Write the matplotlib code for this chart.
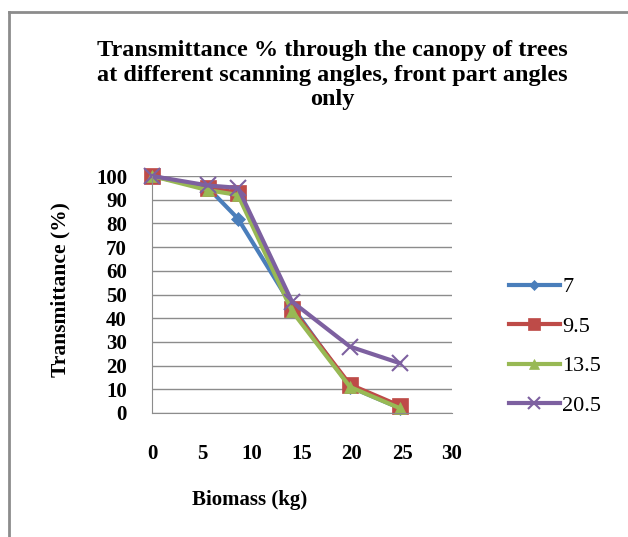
import matplotlib.pyplot as plt
from matplotlib.lines import Line2D

# Biomass (kg) and transmittance (%) for each scanning angle
biomass = [0, 5.6, 8.6, 14, 19.8, 24.8]
angles = ["7", "9.5", "13.5", "20.5"]
t_7 = [100, 95, 82, 45, 11, 2]
t_9_5 = [100, 95, 93, 44, 12, 3]
t_13_5 = [100, 94, 92, 43, 11, 2]
t_20_5 = [100, 96, 95, 47, 28, 21]
series = [t_7, t_9_5, t_13_5, t_20_5]

colors = ["#4A7EBB", "#BE4B48", "#98B954", "#7D60A0"]
markers = ["D", "s", "^", "x"]
msizes = [7, 11, 9, 11]

plt.rcParams["font.family"] = ["Liberation Serif", "DejaVu Serif"]

W, H = 628, 537
fig = plt.figure(figsize=(W / 100, H / 100), dpi=100)

# outer frame (top and left edges only visible)
fig.add_artist(Line2D([9 / W, 1], [1 - 12 / H, 1 - 12 / H], color="#8c8c8c", lw=2))
fig.add_artist(Line2D([9 / W, 9 / W], [0, 1 - 12 / H], color="#8c8c8c", lw=2))

ax = fig.add_axes([152 / W, 1 - 413 / H, 300 / W, 237 / H])

for vals, c, m, ms, lab in zip(series, colors, markers, msizes, angles):
    ax.plot(biomass, vals, color=c, lw=3, marker=m, markersize=ms,
            markeredgewidth=1.5 if m == "x" else 0.5, markeredgecolor=c,
            label=lab, clip_on=False)

ax.set_xlim(0, 30)
ax.set_ylim(0, 100)
ax.set_xticks(range(0, 31, 5))
ax.set_yticks(range(0, 101, 10))
ax.yaxis.grid(True, color="#8c8c8c", lw=1)
ax.set_axisbelow(True)
for s in ["top", "right"]:
    ax.spines[s].set_visible(False)
for s in ["left", "bottom"]:
    ax.spines[s].set_color("#8c8c8c")
ax.tick_params(length=0, labelsize=15)
ax.tick_params(axis="x", pad=22)
ax.tick_params(axis="y", pad=18)
for t in ax.get_xticklabels() + ax.get_yticklabels():
    t.set_fontweight("bold")

fig.text(332 / W, 1 - 75 / H,
         "Transmittance % through the canopy of trees\n"
         "at different scanning angles, front part angles\nonly",
         ha="center", va="center", fontsize=17.5, fontweight="bold",
         linespacing=1.22)
fig.text(60 / W, 1 - 290 / H, "Transmittance (%)", rotation=90,
         ha="center", va="center", fontsize=15.5, fontweight="bold")
fig.text(250 / W, 1 - 500 / H, "Biomass (kg)",
         ha="center", va="center", fontsize=15, fontweight="bold")

fig.legend(loc="upper left", bbox_to_anchor=(500 / W, 1 - 268 / H),
           frameon=False, fontsize=16, handlelength=2.3, handletextpad=0.1,
           labelspacing=0.85, borderaxespad=0, markerscale=0.8)

fig.savefig("out.png", dpi=100)
